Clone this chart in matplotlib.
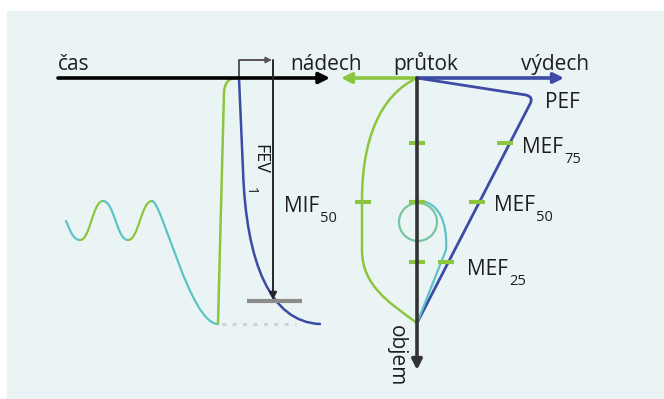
"""
Spirometrie: časový záznam (vlevo) a křivka průtok-objem (vpravo)
uloženo do out.png
"""
import numpy as np
import matplotlib
matplotlib.use("Agg")
import matplotlib.pyplot as plt
from matplotlib.path import Path
from matplotlib.patches import PathPatch, Circle

plt.rcParams["font.family"] = ["Open Sans", "DejaVu Sans"]
plt.rcParams["mathtext.fontset"] = "custom"
plt.rcParams["mathtext.rm"] = "Open Sans"
plt.rcParams["mathtext.default"] = "regular"

# ── barvy ─────────────────────────────────────────────────────────
BG     = "#ebf4f4"
GREEN  = "#8cc63e"
BLUE   = "#3b4ba6"
CYAN   = "#5cc4c8"
TEAL   = "#78c6a0"
DARK   = "#262626"
GREY   = "#8c8c8c"
DOTS   = "#c9d2d3"
TXT    = "#1e1e1e"

# ── data (pixely obrázku) ─────────────────────────────────────────
# klidové dýchání: extrémy vlny a barva úseků (nádech zelená, výdech azurová)
WAVE_X   = [66, 80, 103, 128, 152, 218]
WAVE_Y   = [221, 240, 201, 240, 201, 324]
WAVE_COL = [CYAN, GREEN, CYAN, GREEN, CYAN]

# usilovný nádech v čase
INSP_T = [(218, 324), (224, 92), (225, 78), (236, 78)]
# usilovný výdech v čase (přímka + Bezier)
EXP_T  = [(239, 78), (243, 170), (246, 262), (270, 322), (320, 324)]

# průtok-objem: výdech (PEF) a nádech
EXP_FV  = [(417, 78), (526, 95), (534, 97), (530, 104), (417, 323)]
INSP_FV = [(417, 78), (380, 95), (362, 140), (362, 200), (362, 250),
           (362, 285), (388, 302), (417, 323)]
TIDAL   = [(417, 201), (438, 200), (448, 222), (446, 250), (417, 323)]
TIDAL_CENTER, TIDAL_R = (418, 222), 19

TICK_X = [417, 417, 417, 505, 477, 446, 363]
TICK_Y = [143, 202, 262, 143, 202, 262, 202]

LABELS = [
    ("čas", "", 58, 70), ("nádech", "", 290, 70), ("průtok", "", 393, 70),
    ("výdech", "", 521, 70), ("PEF", "", 545, 108), ("MEF", "75", 522, 153),
    ("MEF", "50", 494, 211), ("MEF", "25", 467, 275), ("MIF", "50", 284, 212),
]


def arrow(ax, tail, head, color, lw, ms=14):
    ax.annotate("", xy=head, xytext=tail,
                arrowprops=dict(arrowstyle="-|>", color=color, lw=lw,
                                mutation_scale=ms, shrinkA=0, shrinkB=0))


def bez(ax, verts, codes, color, lw):
    ax.add_patch(PathPatch(Path(verts, codes), fill=False, edgecolor=color,
                           lw=lw, capstyle="round", joinstyle="round"))


fig = plt.figure(figsize=(6.64, 3.99), dpi=100)
ax = fig.add_axes([0, 0, 1, 1])
ax.set_xlim(0, 664)
ax.set_ylim(399, 0)
ax.axis("off")
ax.add_patch(plt.Rectangle((7, 11), 660, 390, color=BG, zorder=0))

# ── levá část: časový záznam ──────────────────────────────────────
for i, col in enumerate(WAVE_COL):
    x0, y0, x1, y1 = WAVE_X[i], WAVE_Y[i], WAVE_X[i + 1], WAVE_Y[i + 1]
    if i == 0:
        verts = [(x0, y0), (x0 + 5, y0 + 12), (x1 - 6, y1), (x1, y1)]
    elif i < len(WAVE_COL) - 1:
        k = 0.45 * (x1 - x0)
        verts = [(x0, y0), (x0 + k, y0), (x1 - k, y1), (x1, y1)]
    else:
        verts = [(x0, y0), (x0 + 10, y0), (x1 - 28, y1), (x1, y1)]
    bez(ax, verts, [Path.MOVETO, Path.CURVE4, Path.CURVE4, Path.CURVE4], col, 1.6)

ax.plot([222, 296], [324, 324], color=DOTS, lw=2.2, ls=(0, (1.2, 2.2)))
bez(ax, INSP_T, [Path.MOVETO, Path.LINETO, Path.CURVE3, Path.CURVE3], GREEN, 1.8)
bez(ax, EXP_T, [Path.MOVETO, Path.LINETO, Path.CURVE4, Path.CURVE4, Path.CURVE4], BLUE, 1.8)

arrow(ax, (58, 78), (330, 78), "black", 2.6, 16)
ax.plot([239, 239, 266], [78, 60, 60], color="#555555", lw=1.4)
arrow(ax, (262, 60), (272, 60), "#555555", 1.2, 9)
arrow(ax, (273, 60), (273, 300), DARK, 1.4, 11)
ax.plot([247, 302], [301, 301], color=GREY, lw=3, solid_capstyle="butt")

ax.text(260, 144, "FEV", rotation=-90, fontsize=13, ha="center", va="top", color=TXT)
ax.text(250, 187, "1", rotation=-90, fontsize=10, ha="center", va="top", color=TXT)

# ── pravá část: průtok-objem ──────────────────────────────────────
arrow(ax, (417, 78), (341, 78), GREEN, 2.6, 15)
arrow(ax, (417, 78), (564, 78), BLUE, 2.6, 15)
arrow(ax, (417, 78), (417, 370), "#333333", 2.6, 15)

bez(ax, EXP_FV, [Path.MOVETO, Path.LINETO, Path.CURVE3, Path.CURVE3, Path.LINETO], BLUE, 2.0)
bez(ax, INSP_FV, [Path.MOVETO, Path.CURVE4, Path.CURVE4, Path.CURVE4, Path.LINETO,
                  Path.CURVE4, Path.CURVE4, Path.CURVE4], GREEN, 1.8)
ax.add_patch(Circle(TIDAL_CENTER, TIDAL_R, fill=False, edgecolor=TEAL, lw=1.6))
bez(ax, TIDAL, [Path.MOVETO, Path.CURVE4, Path.CURVE4, Path.CURVE4, Path.LINETO], CYAN, 1.6)

ax.plot(TICK_X, TICK_Y, ls="none", marker="_", ms=12, mew=3, color=GREEN)

ax.text(396, 325, "objem", rotation=-90, fontsize=15, ha="center", va="top", color=TXT)

renderer = fig.canvas.get_renderer()
for txt, sub, x, y in LABELS:
    t = ax.text(x, y, txt, fontsize=15, ha="left", va="baseline", color=TXT)
    if sub:
        bb = t.get_window_extent(renderer).transformed(ax.transData.inverted())
        ax.text(bb.x1 + 1, y + 10, sub, fontsize=10.5, ha="left", va="baseline",
                color=TXT)

fig.savefig("out.png", dpi=100)
